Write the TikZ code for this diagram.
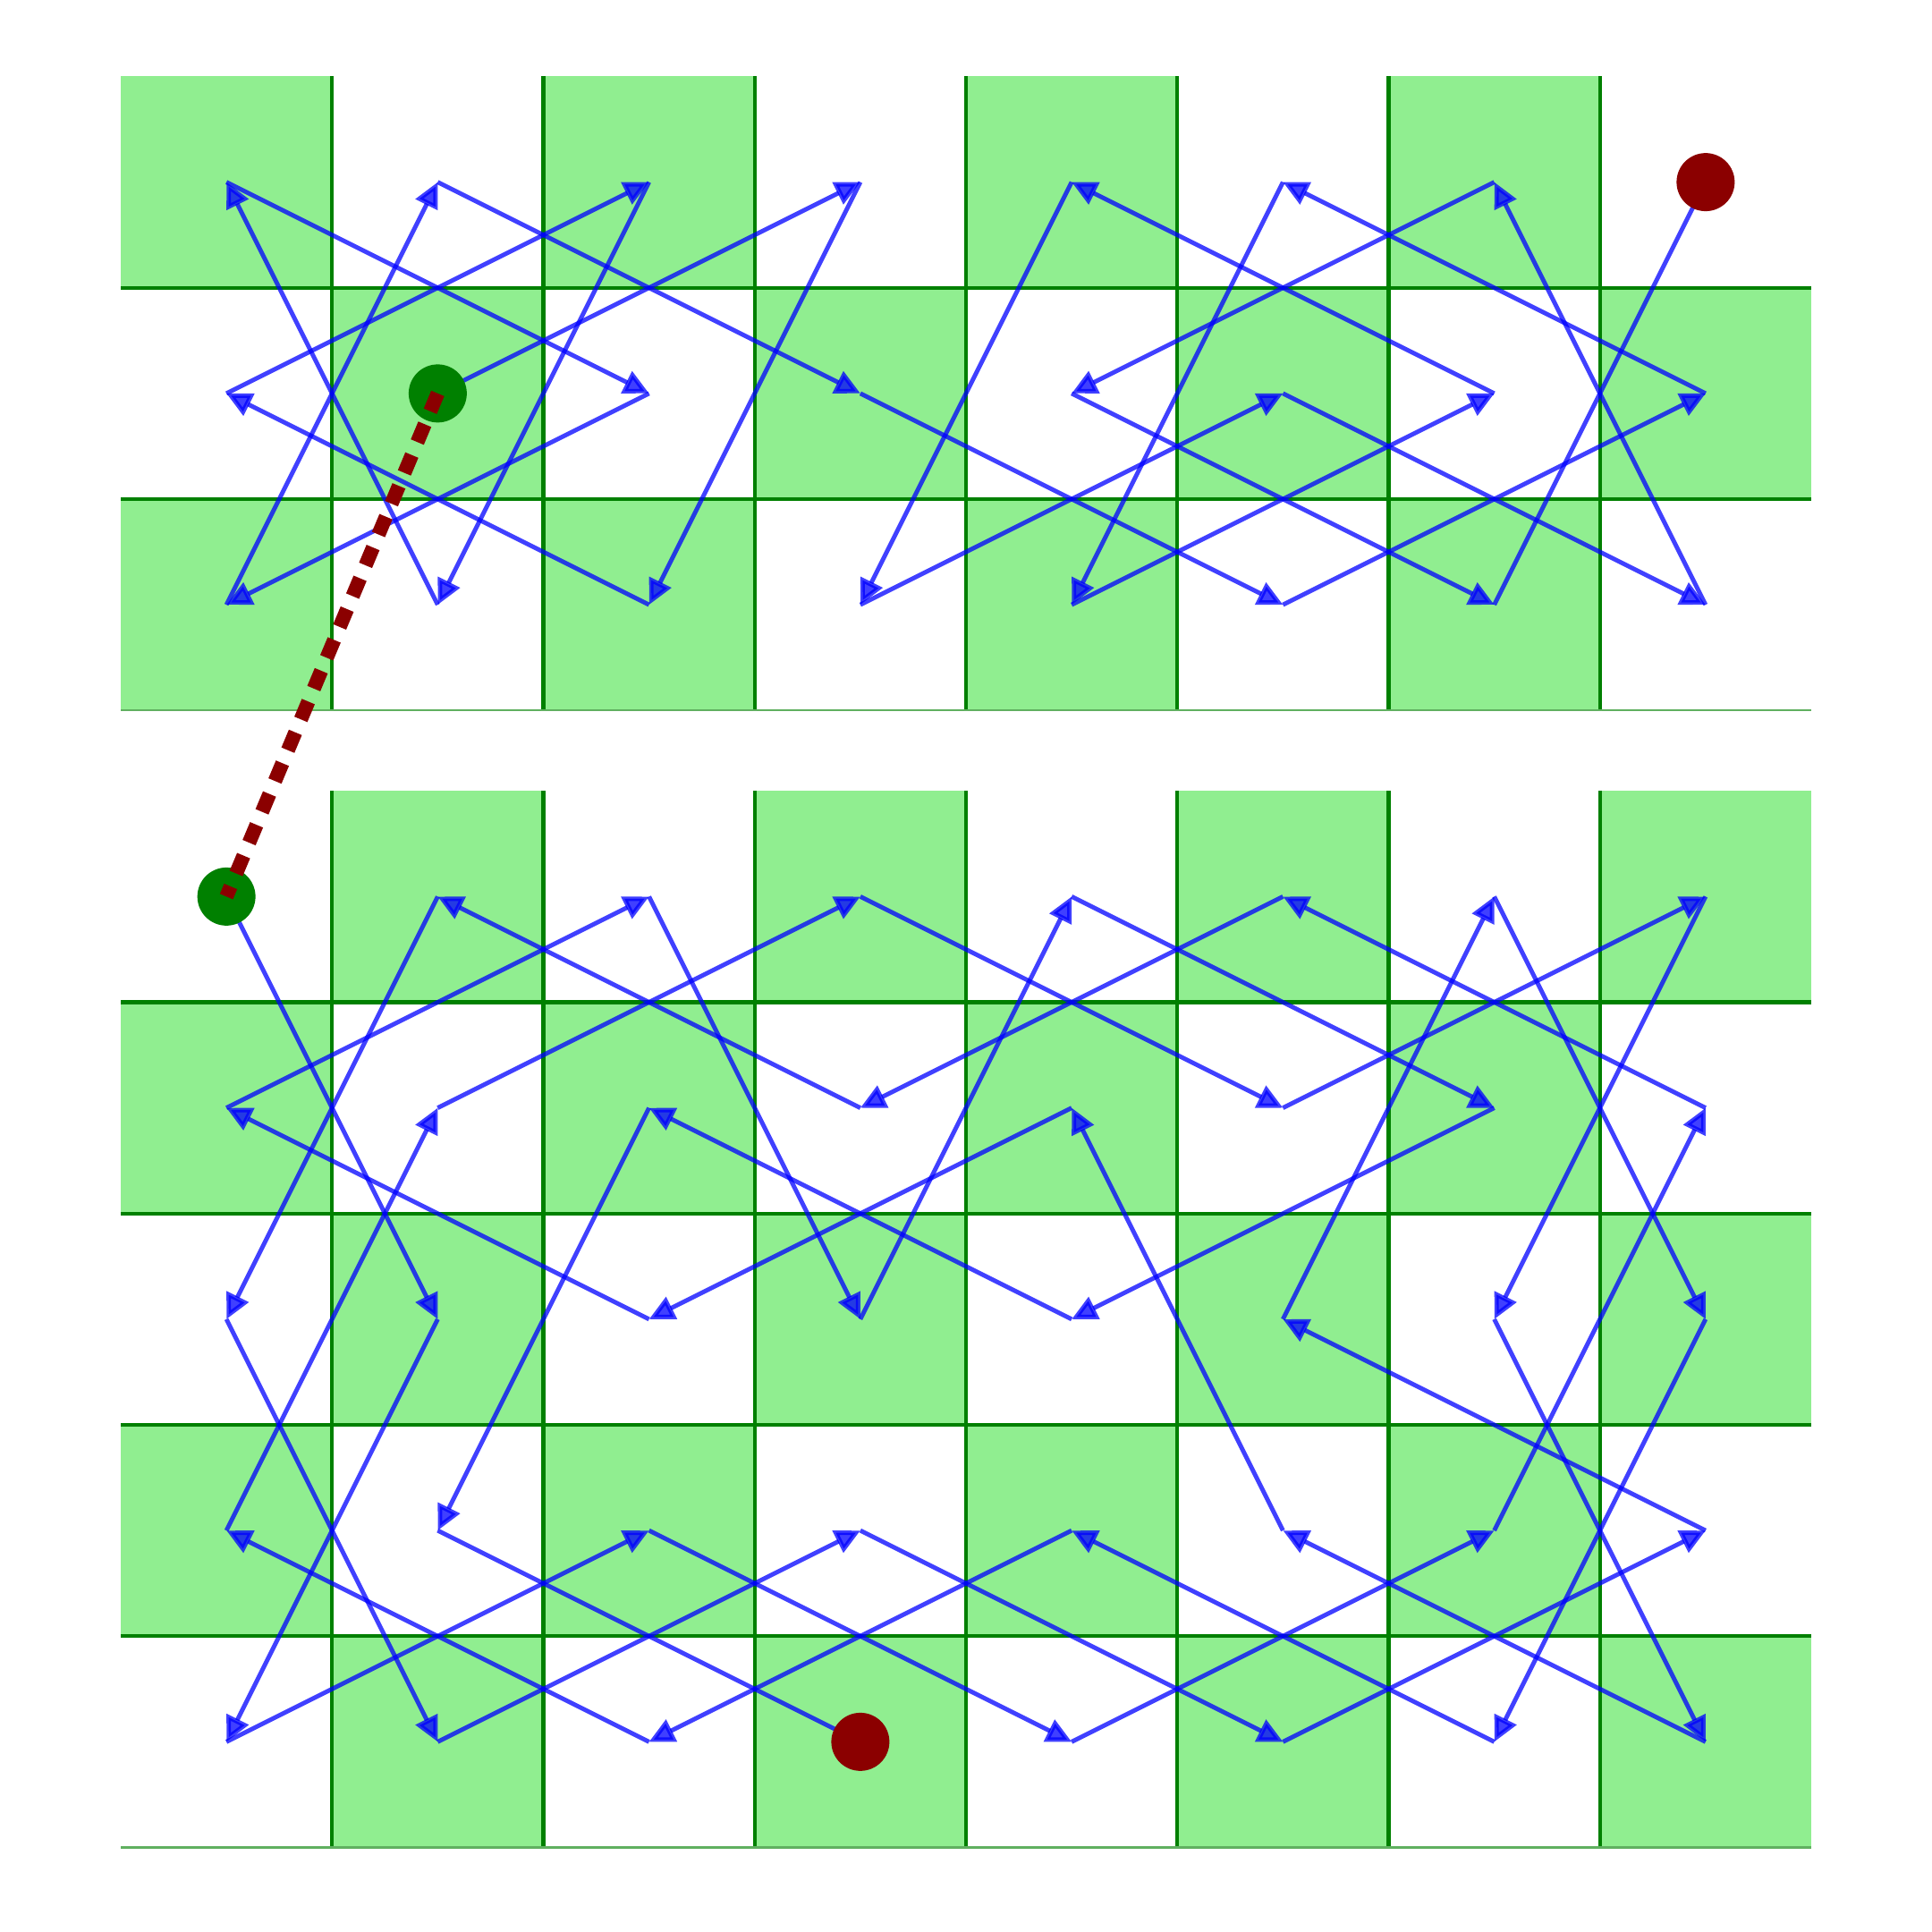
\documentclass[tikz,border=0pt]{standalone}
\usetikzlibrary{arrows.meta}

\definecolor{boardgreen}{RGB}{144,238,144}
\definecolor{gridgreen}{RGB}{0,128,0}
\definecolor{edgegreen}{RGB}{96,176,96}
\definecolor{enddarkred}{RGB}{139,0,0}

\begin{document}
\begin{tikzpicture}[
    move/.style={draw=blue, opacity=0.75, line width=0.6pt, -{Triangle[length=3.4pt,width=3.2pt]}},
    gridline/.style={draw=gridgreen, line width=0.5pt},
    rim/.style={draw=edgegreen, line width=0.25pt},
    startdot/.style={circle, fill=gridgreen, minimum size=0.275cm, inner sep=0pt},
    enddot/.style={circle, fill=enddarkred, minimum size=0.275cm, inner sep=0pt},
    link/.style={draw=enddarkred, line width=1.9pt, dash pattern=on 2.6pt off 1.9pt}
]
\useasboundingbox (-0.5715,-0.4) rectangle (8.5715,8.743);

% lower board, 8 x 5
\foreach \c in {0,...,7}
  \foreach \r in {0,...,4} {
    \pgfmathtruncatemacro{\odd}{mod(\c+\r,2)}
    \ifnum\odd=1 \fill[boardgreen] (\c,4-\r) rectangle ++(1,1); \fi
    \coordinate (b\c\r) at (\c+0.5,4.5-\r);
  }
% upper board, 8 x 3
\foreach \c in {0,...,7}
  \foreach \r in {0,...,2} {
    \pgfmathtruncatemacro{\odd}{mod(\c+\r,2)}
    \ifnum\odd=0 \fill[boardgreen] (\c,7.381-\r) rectangle ++(1,1); \fi
    \coordinate (t\c\r) at (\c+0.5,7.881-\r);
  }

\foreach \x in {1,...,7} {
  \draw[gridline] (\x,0) -- (\x,5);
  \draw[gridline] (\x,5.381) -- (\x,8.381);
}
\foreach \y in {1,...,4}
  \draw[gridline] (0,\y) -- (8,\y);
\foreach \y in {6.381,7.381}
  \draw[gridline] (0,\y) -- (8,\y);
\draw[rim] (0,0) -- (8,0);
\draw[rim] (0,5.381) -- (8,5.381);

% upper tour
\path[every edge/.style=move]
    (t11) edge (t30) (t30) edge (t22) (t22) edge (t01) (t01) edge (t20)
    (t20) edge (t12) (t12) edge (t00) (t00) edge (t21) (t21) edge (t02)
    (t02) edge (t10) (t10) edge (t31) (t31) edge (t52) (t52) edge (t71)
    (t71) edge (t50) (t50) edge (t42) (t42) edge (t61) (t61) edge (t40)
    (t40) edge (t32) (t32) edge (t51) (t51) edge (t72) (t72) edge (t60)
    (t60) edge (t41) (t41) edge (t62) (t62) edge (t70);

% lower tour
\path[every edge/.style=move]
    (b00) edge (b12) (b12) edge (b04) (b04) edge (b23) (b23) edge (b44)
    (b44) edge (b63) (b63) edge (b71) (b71) edge (b50) (b50) edge (b31)
    (b31) edge (b10) (b10) edge (b02) (b02) edge (b14) (b14) edge (b33)
    (b33) edge (b54) (b54) edge (b73) (b73) edge (b52) (b52) edge (b60)
    (b60) edge (b72) (b72) edge (b64) (b64) edge (b43) (b43) edge (b24)
    (b24) edge (b03) (b03) edge (b11) (b11) edge (b30) (b30) edge (b51)
    (b51) edge (b70) (b70) edge (b62) (b62) edge (b74) (b74) edge (b53)
    (b53) edge (b41) (b41) edge (b22) (b22) edge (b01) (b01) edge (b20)
    (b20) edge (b32) (b32) edge (b40) (b40) edge (b61) (b61) edge (b42)
    (b42) edge (b21) (b21) edge (b13) (b13) edge (b34);

\node[startdot] (topstart) at (t11) {};
\node[enddot] (topend) at (t70) {};
\node[startdot] (lowstart) at (b00) {};
\node[enddot] (lowend) at (b34) {};

\draw[link] (topstart.center) -- (lowstart.center);
\end{tikzpicture}
\end{document}
